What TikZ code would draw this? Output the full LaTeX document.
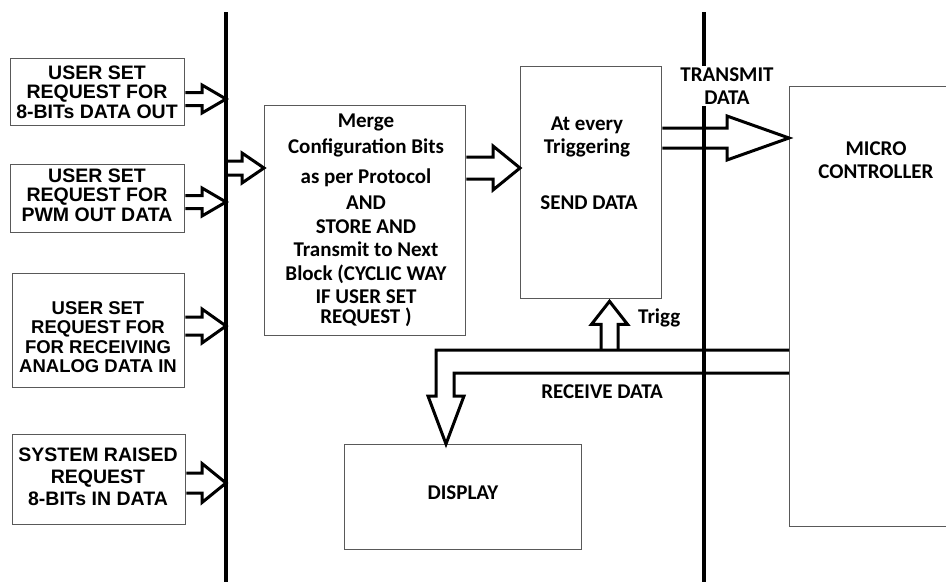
\documentclass[tikz,border=0pt]{standalone}
\usepackage{fontspec}
\setmainfont{Carlito}
\newfontfamily\arialf{Liberation Sans}
\usetikzlibrary{calc}
% horizontal hollow block arrow: #1 x-source start, #2 x-source tip, #3 y, #4 shaft half, #5 head half, #6 head length
\newcommand{\harrow}[6]{%
  \draw[arr] let \p1=(#1 |- 0,#3), \p2=(#2 |- 0,#3) in
    (\x1,\y1+#4) -- (\x2-#6,\y1+#4) -- (\x2-#6,\y1+#5) -- (\x2,\y1)
    -- (\x2-#6,\y1-#5) -- (\x2-#6,\y1-#4) -- (\x1,\y1-#4);}
\begin{document}
\begin{tikzpicture}[x=1pt,y=-1pt,
  box/.style={draw=black!65,line width=1.3pt,inner sep=0pt,anchor=north west},
  arr/.style={draw=black,line width=3pt,line join=miter},
  bus/.style={draw=black,line width=3.4pt},
  ltext/.style={font=\arialf\bfseries\fontsize{19.5}{19.5}\selectfont,align=center,inner sep=0pt},
  ctext/.style={font=\bfseries\fontsize{21}{23.5}\selectfont,align=center,inner sep=0pt}]
\useasboundingbox (0,0) rectangle (946,582);

% bus lines
\coordinate (busLt) at (226,12);
\coordinate (busLb) at (226,582);
\coordinate (busRt) at (704,12);
\coordinate (busRb) at (704,582);

% left boxes
\node[box,minimum width=174pt,minimum height=67pt] (b1) at (10,58) {};
\node[box,minimum width=174pt,minimum height=68pt] (b2) at (10,164) {};
\node[box,minimum width=172pt,minimum height=114pt] (b3) at (12,273) {};
\node[box,minimum width=173pt,minimum height=90pt] (b4) at (12,434) {};
\node[ltext] (t1) at (97,92) {USER SET\\REQUEST FOR\\8-BITs DATA OUT};
\node[ltext] (t2) at (97,195) {USER SET\\REQUEST FOR\\PWM OUT DATA};
\node[ltext,font=\arialf\bfseries\fontsize{18.5}{19.5}\selectfont] (t3) at (98,337) {USER SET\\REQUEST FOR\\FOR RECEIVING\\ANALOG DATA IN};
\node[ltext,font=\arialf\bfseries\fontsize{19.5}{22}\selectfont] (t4) at (98,477) {SYSTEM RAISED\\REQUEST\\8-BITs IN DATA};

% middle boxes
\node[box,minimum width=201pt,minimum height=230pt] (merge) at (264,105) {};
\node[ctext] (tm) at (366,220) {Merge\\[3pt]Configuration Bits\\[6pt]as per Protocol\\[3pt]AND\\STORE AND\\Transmit to Next\\Block (CYCLIC WAY\\IF USER SET\\[-4pt]REQUEST )};
\node[box,minimum width=141pt,minimum height=232pt] (send) at (520,66) {};
\node[ctext] (ts1) at (587,137) {At every\\Triggering};
\node[ctext] (ts2) at (589,203) {SEND DATA};
\node[box,minimum width=237pt,minimum height=105pt] (disp) at (344,444) {};
\node[ctext] (td) at (463,493) {DISPLAY};
\node[box,minimum width=170pt,minimum height=440pt] (micro) at (789,86) {};
\node[ctext] (tmc) at (876,160) {MICRO\\CONTROLLER};

% bus lines drawn
\draw[bus] (busLt) -- (busLb);
\draw[bus] (busRt) -- (busRb);

% labels over right bus
\node[ctext,fill=white,inner sep=1pt] (ttx) at (727,86) {TRANSMIT\\DATA};

% arrows into left bus
\harrow{b1.east}{busLt}{99}{6.5pt}{14pt}{24pt}
\harrow{b2.east}{busLt}{202}{6.5pt}{14pt}{24pt}
\harrow{b3.east}{busLt}{326}{9pt}{17pt}{24pt}
\harrow{b4.east}{busLt}{483}{10pt}{19.5pt}{24pt}
% bus to merge
\harrow{busLt}{merge.west}{168}{7pt}{15pt}{22pt}
% merge to send
\harrow{merge.east}{send.west}{168}{11pt}{22pt}{27pt}
% send to micro (transmit)
\harrow{send.east}{micro.west}{138}{10pt}{22pt}{62pt}

% trigger arrow
\coordinate (trigbase) at (609.5,350);
\draw[arr] let \p1=(trigbase), \p2=(send.south -| trigbase) in
  (\x1-8.5pt,\y1) -- (\x1-8.5pt,\y2-25pt) -- (\x1-18pt,\y2-25pt) -- (\x1,\y2-2pt)
  -- (\x1+18pt,\y2-25pt) -- (\x1+8.5pt,\y2-25pt) -- (\x1+8.5pt,\y1);
\node[ctext,anchor=west] (ttrig) at (638,318) {Trigg};

% receive L-shaped arrow
\coordinate (rxU) at (micro.west |- 0,350);
\coordinate (rxL) at (micro.west |- 0,373);
\coordinate (rxtip) at (disp.north -| 446,0);
\draw[arr] (rxU) -- (436,350) -- (436,396) -- (428,396) -- (rxtip)
  -- (464,396) -- (454,396) -- (454,373) -- (rxL);
\node[ctext] (trx) at (602,392) {RECEIVE DATA};

% redraw right bus across the receive lines
\draw[bus] (704,330) -- (704,400);
\end{tikzpicture}
\end{document}
